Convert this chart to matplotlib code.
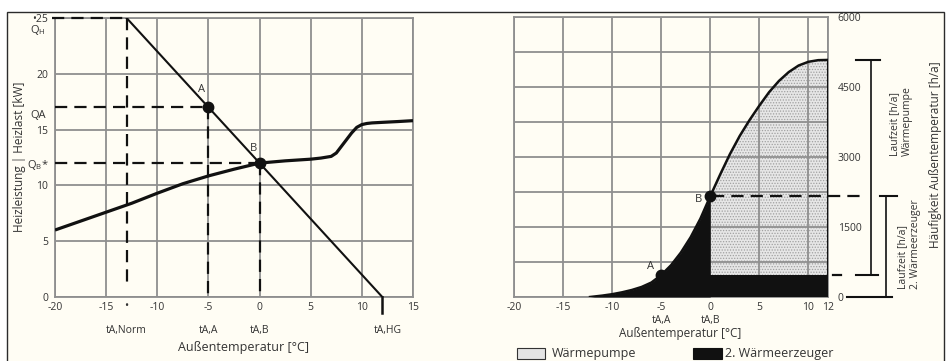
import matplotlib
matplotlib.use('Agg')
import matplotlib.pyplot as plt
from matplotlib.transforms import blended_transform_factory as blend
from matplotlib.patches import Rectangle

W, H = 952, 361
plt.rcParams['font.family'] = ['Open Sans', 'DejaVu Sans']
plt.rcParams['hatch.linewidth'] = 0.6
plt.rcParams['axes.unicode_minus'] = False

# ---------------- data: left chart (heating load / heat pump capacity) ----------------
temps_cap = [-20, -17.5, -15, -12.5, -10, -7.5, -5, -2.5, 0, 2.5, 5, 6, 7, 7.5, 8, 8.5, 9, 9.5, 10, 10.5, 11, 12, 13.5, 15]
cap_kw = [6.0, 6.8, 7.6, 8.4, 9.3, 10.15, 10.85, 11.45, 12.0, 12.2, 12.35, 12.45, 12.6, 12.9, 13.5, 14.1, 14.7, 15.2, 15.45, 15.55, 15.6, 15.65, 15.72, 15.8]
load_t = [-13, 12]
load_kw = [25, 0]
t_norm, q_h = -13, 25
t_A, q_A = -5, 17
t_B, q_B = 0, 12
t_hg = 12
left_xticks = [-20, -15, -10, -5, 0, 5, 10, 15]
left_yticks = [0, 5, 10, 15, 20, 25]
left_ylabels = ['0', '5', '10', '15', '20', '•25']

# ---------------- data: right chart (cumulative frequency of outdoor temperature) ----------------
temps_freq = [-12.25, -11, -10, -9, -8, -7, -6, -5, -4, -3, -2, -1, 0,
              1, 2, 3, 4, 5, 6, 7, 8, 9, 10, 11, 12]
hours = [0, 30, 60, 100, 150, 215, 310, 470, 680, 950, 1280, 1680, 2160,
         2620, 3060, 3450, 3790, 4100, 4390, 4630, 4820, 4960, 5040, 5075, 5080]
h_A = 470
h_B = 2160
h_max = 5080
right_xticks = [-20, -15, -10, -5, 0, 5, 10, 12]
right_ygrid = [0, 750, 1500, 2250, 3000, 3750, 4500, 5250, 6000]
right_ylabels = ['0', '', '1500', '', '3000', '', '4500', '', '6000']

cream = '#fffdf4'
gridc = '#8f8f8f'
txt = '#333333'

fig = plt.figure(figsize=(W / 100, H / 100), dpi=100)
fig.patch.set_facecolor('white')
fig.patches.append(Rectangle((7 / W, -0.01), (944 - 7) / W, (H - 12) / H + 0.01,
                             transform=fig.transFigure, facecolor=cream,
                             edgecolor='#2b2b2b', lw=1.0, zorder=-5))

def fy(py):
    return 1 - py / H

def fx(px):
    return px / W

dash = (0, (5.5, 3.2))
TS = 7.5

# ======================= LEFT =======================
ax1 = fig.add_axes([fx(55), fy(297), 358 / W, 279 / H])
ax1.set_facecolor('none')
ax1.set_xlim(-20, 15)
ax1.set_ylim(0, 25)
ax1.set_xticks(left_xticks)
ax1.set_yticks(left_yticks)
ax1.set_yticklabels(left_ylabels)
ax1.tick_params(length=0, labelsize=TS, colors=txt)
ax1.tick_params(axis='y', pad=5)
ax1.tick_params(axis='x', pad=3.5)
ax1.grid(True, color=gridc, lw=1.3)
ax1.set_axisbelow(True)
for s in ax1.spines.values():
    s.set_color(gridc)
    s.set_linewidth(1.3)

# dashed helper lines
ax1.plot([-20.3, t_norm], [q_h, q_h], color='#111', lw=1.6, ls=dash, clip_on=False, zorder=3)
ax1.plot([t_norm, t_norm], [q_h, 0.8], color='#111', lw=1.6, ls=dash, zorder=3)
ax1.plot([-20, t_A], [q_A, q_A], color='#111', lw=1.6, ls=dash, zorder=3)
ax1.plot([t_A, t_A], [q_A, 0], color='#111', lw=1.6, ls=dash, zorder=3)
ax1.plot([-20, t_B], [q_B, q_B], color='#111', lw=1.6, ls=dash, zorder=3)
ax1.plot([t_B, t_B], [q_B, 0], color='#111', lw=1.6, ls=dash, zorder=3)

# load line + capacity curve
ax1.plot(load_t, load_kw, color='#111', lw=1.5, zorder=4)
ax1.plot([t_hg, t_hg], [0, -1.4], color='#111', lw=1.8, clip_on=False, zorder=4)
ax1.plot(temps_cap, cap_kw, color='#111', lw=2.3, zorder=4, solid_capstyle='butt')
ax1.plot([t_A, t_B], [q_A, q_B], 'o', color='#111', ms=7.5, zorder=5)
ax1.text(-5.65, 18.6, 'A', fontsize=8, color=txt, ha='center', va='center')
ax1.text(-0.55, 13.35, 'B', fontsize=8, color=txt, ha='center', va='center')

# extra y labels
bt1 = blend(fig.transFigure, ax1.transData)
ax1.text(fx(38), 23.9, 'Q$_\\mathregular{H}$', transform=bt1, fontsize=8, color=txt, ha='center', va='center')
ax1.text(fx(38), 16.3, 'QA', transform=bt1, fontsize=8, color=txt, ha='center', va='center')
ax1.text(fx(38), 11.8, 'Q$_\\mathregular{B}$*', transform=bt1, fontsize=8, color=txt, ha='center', va='center')

# extra x labels
bx1 = blend(ax1.transData, fig.transFigure)
ax1.text(t_norm, fy(307), '•', transform=bx1, fontsize=8, color=txt, ha='center', va='center')
ax1.text(t_norm, fy(330), 'tA,Norm', transform=bx1, fontsize=TS, color=txt, ha='center', va='center')
ax1.text(t_A, fy(330), 'tA,A', transform=bx1, fontsize=TS, color=txt, ha='center', va='center')
ax1.text(t_B, fy(330), 'tA,B', transform=bx1, fontsize=TS, color=txt, ha='center', va='center')
ax1.text(t_hg + 0.5, fy(330), 'tA,HG', transform=bx1, fontsize=TS, color=txt, ha='center', va='center')
fig.text(fx(244), fy(347), 'Außentemperatur [°C]', fontsize=9, color=txt, ha='center', va='center')
fig.text(fx(20), fy(157), 'Heizleistung | Heizlast [kW]', fontsize=8.5, color=txt, ha='center', va='center', rotation=90)

# ======================= RIGHT =======================
ax2 = fig.add_axes([fx(514), fy(297), 314 / W, 280 / H])
ax2.set_facecolor('none')
ax2.set_xlim(-20, 12)
ax2.set_ylim(0, 6000)
ax2.set_xticks(right_xticks)
ax2.set_yticks(right_ygrid)
ax2.set_yticklabels(right_ylabels)
ax2.yaxis.tick_right()
ax2.tick_params(length=0, labelsize=TS, colors=txt)
ax2.tick_params(axis='x', pad=3.5)
ax2.tick_params(axis='y', pad=7)
ax2.grid(True, color=gridc, lw=1.3)
ax2.set_axisbelow(False)
for s in ax2.spines.values():
    s.set_color(gridc)
    s.set_linewidth(1.3)

xs_hp = [t for t in temps_freq if t >= 0]
hs_hp = [h for t, h in zip(temps_freq, hours) if t >= 0]
ax2.fill_between(xs_hp, [h_A] * len(xs_hp), hs_hp, facecolor='#e6e6e6', edgecolor='#a0a0a0',
                 hatch='......', lw=0, zorder=1)
xs_2 = [t for t in temps_freq if t <= 0]
hs_2 = [h for t, h in zip(temps_freq, hours) if t <= 0]
ax2.fill_between(xs_2, 0, hs_2, color='#111', lw=0, zorder=3)
ax2.fill_between([0, 12], 0, h_A, color='#111', lw=0, zorder=3)
ax2.plot(temps_freq, hours, color='#111', lw=1.8, zorder=4)
ax2.plot([12, 12], [0, h_max], color='#111', lw=1.5, zorder=4)
ax2.plot([t_A, t_B], [h_A, h_B], 'o', color='#111', ms=7.5, zorder=5)
ax2.text(-6.1, 660, 'A', fontsize=8, color=txt, ha='center', va='center')
ax2.text(-1.2, 2080, 'B', fontsize=8, color=txt, ha='center', va='center')

# dashed level lines and brackets (x in figure px, y in data)
bt2 = blend(fig.transFigure, ax2.transData)
ax2.plot([fx(712), fx(862)], [h_B, h_B], color='#111', lw=1.6, ls=dash, transform=bt2, clip_on=False, zorder=5)
ax2.plot([fx(833), fx(841)], [h_A, h_A], color='#111', lw=1.6, transform=bt2, clip_on=False)
# bracket 1: Waermepumpe
ax2.plot([fx(870.5), fx(870.5)], [h_max, h_A], color='#111', lw=1.2, transform=bt2, clip_on=False)
ax2.plot([fx(856), fx(880)], [h_max, h_max], color='#111', lw=1.5, transform=bt2, clip_on=False)
ax2.plot([fx(856), fx(878)], [h_A, h_A], color='#111', lw=1.5, transform=bt2, clip_on=False)
# bracket 2: 2. Waermeerzeuger
ax2.plot([fx(885.5), fx(885.5)], [h_B, 0], color='#111', lw=1.2, transform=bt2, clip_on=False)
ax2.plot([fx(880), fx(897)], [h_B, h_B], color='#111', lw=1.5, transform=bt2, clip_on=False)
ax2.plot([fx(847), fx(892)], [0, 0], color='#111', lw=1.5, transform=bt2, clip_on=False)

fig.text(fx(901), fy(156), 'Laufzeit [h/a]\nWärmepumpe', fontsize=7.5, color=txt, ha='center', va='bottom',
         rotation=90, multialignment='left', linespacing=1.2)
fig.text(fx(909), fy(289), 'Laufzeit [h/a]\n2. Wärmeerzeuger', fontsize=7.5, color=txt, ha='center', va='bottom',
         rotation=90, multialignment='left', linespacing=1.2)
fig.text(fx(935), fy(155), 'Häufigkeit Außentemperatur [h/a]', fontsize=8.5, color=txt, ha='center', va='center',
         rotation=90)

bx2 = blend(ax2.transData, fig.transFigure)
ax2.text(t_A, fy(320), 'tA,A', transform=bx2, fontsize=TS, color=txt, ha='center', va='center')
ax2.text(t_B, fy(320), 'tA,B', transform=bx2, fontsize=TS, color=txt, ha='center', va='center')
fig.text(fx(680), fy(333), 'Außentemperatur [°C]', fontsize=8.5, color=txt, ha='center', va='center')

# legend
fig.patches.append(Rectangle((fx(517), fy(359)), 28 / W, 11 / H, transform=fig.transFigure,
                             facecolor='#e4e4e4', edgecolor='#333', lw=0.8))
fig.text(fx(552), fy(353), 'Wärmepumpe', fontsize=9, color=txt, ha='left', va='center')
fig.patches.append(Rectangle((fx(693), fy(359)), 29 / W, 11 / H, transform=fig.transFigure,
                             facecolor='#111', edgecolor='#111', lw=0.8))
fig.text(fx(725), fy(353), '2. Wärmeerzeuger', fontsize=9, color=txt, ha='left', va='center')

fig.savefig('out.png', dpi=100, facecolor=fig.get_facecolor())
